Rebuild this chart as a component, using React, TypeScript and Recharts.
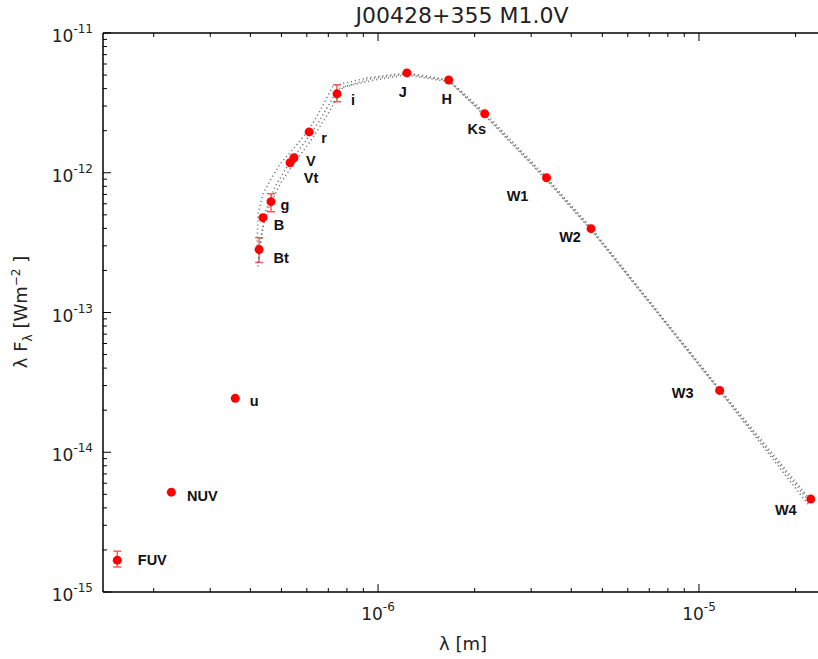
import React from "react";
import { ScatterChart, Scatter, XAxis, YAxis, ErrorBar } from "recharts";

// photometric points
const bands = ["FUV", "NUV", "u", "Bt", "B", "g", "Vt", "V", "r", "i", "J", "H", "Ks", "W1", "W2", "W3", "W4"];
const wavelength = [1.54e-7, 2.27e-7, 3.59e-7, 4.26e-7, 4.38e-7, 4.64e-7, 5.32e-7, 5.47e-7, 6.1e-7, 7.45e-7, 1.23e-6, 1.66e-6, 2.15e-6, 3.35e-6, 4.61e-6, 1.16e-5, 2.23e-5];
const flux = [1.69e-15, 5.18e-15, 2.43e-14, 2.82e-13, 4.77e-13, 6.21e-13, 1.18e-12, 1.28e-12, 1.96e-12, 3.67e-12, 5.18e-12, 4.61e-12, 2.64e-12, 9.21e-13, 3.98e-13, 2.77e-14, 4.62e-15];
const fluxLow = [1.51e-15, null, null, 2.28e-13, null, 5.26e-13, null, null, null, 3.22e-12, null, null, null, null, null, null, null];
const fluxHigh = [1.96e-15, null, null, 3.43e-13, null, 7.08e-13, null, null, null, 4.26e-12, null, null, null, null, null, null, null];

// three model SEDs (dotted)
const modelALambda = [4.197e-7, 4.227e-7, 4.382e-7, 4.608e-7, 4.951e-7, 5.318e-7, 5.715e-7, 6.141e-7, 6.597e-7, 7.24e-7, 9.24e-7, 1.231e-6, 1.664e-6, 2.154e-6, 3.337e-6, 4.609e-6, 1.163e-5, 2.202e-5];
const modelAFlux = [3.01e-13, 5.094e-13, 7.08e-13, 8.77e-13, 1.159e-12, 1.39e-12, 1.693e-12, 2.096e-12, 2.774e-12, 4.18e-12, 4.77e-12, 5.18e-12, 4.617e-12, 2.683e-12, 9.36e-13, 4.047e-13, 2.818e-14, 4.69e-15];
const modelBLambda = [4.227e-7, 4.446e-7, 4.776e-7, 5.318e-7, 5.924e-7, 6.597e-7, 7.505e-7, 9.44e-7, 1.231e-6, 1.664e-6, 2.185e-6, 3.385e-6, 4.675e-6, 1.179e-5, 2.202e-5];
const modelBFlux = [2.276e-13, 5.18e-13, 7.94e-13, 1.198e-12, 1.665e-12, 2.391e-12, 3.981e-12, 4.69e-12, 5.094e-12, 4.541e-12, 2.512e-12, 8.77e-13, 3.79e-13, 2.638e-14, 4.467e-15];
const modelCLambda = [4.227e-7, 4.35e-7, 4.608e-7, 5.023e-7, 5.551e-7, 6.229e-7, 6.985e-7, 7.78e-7, 9.79e-7, 1.231e-6, 1.676e-6, 2.217e-6, 3.434e-6, 4.743e-6, 1.196e-5, 2.186e-5];
const modelCFlux = [2.131e-13, 3.852e-13, 6.005e-13, 8.77e-13, 1.218e-12, 1.75e-12, 2.639e-12, 4.114e-12, 4.617e-12, 5.012e-12, 4.467e-12, 2.391e-12, 8.34e-13, 3.607e-13, 2.512e-14, 4.252e-15];

const xTicks = [2e-7, 3e-7, 4e-7, 5e-7, 6e-7, 7e-7, 8e-7, 9e-7, 1e-6, 2e-6, 3e-6, 4e-6, 5e-6, 6e-6, 7e-6, 8e-6, 9e-6, 1e-5, 2e-5];
const yTicks = [
  1e-15, 2e-15, 3e-15, 4e-15, 5e-15, 6e-15, 7e-15, 8e-15, 9e-15,
  1e-14, 2e-14, 3e-14, 4e-14, 5e-14, 6e-14, 7e-14, 8e-14, 9e-14,
  1e-13, 2e-13, 3e-13, 4e-13, 5e-13, 6e-13, 7e-13, 8e-13, 9e-13,
  1e-12, 2e-12, 3e-12, 4e-12, 5e-12, 6e-12, 7e-12, 8e-12, 9e-12, 1e-11,
];

// where each band label sits relative to its point (px)
const labelShift: Record<string, [number, number]> = {
  FUV: [35, 5], NUV: [31, 9], u: [19, 8], Bt: [22, 13], B: [16, 12], g: [14, 8],
  Vt: [21, 20], V: [17, 8], r: [15, 11], i: [16, 11], J: [-4, 24], H: [-2, 24],
  Ks: [-8, 20], W1: [-29, 23], W2: [-21, 13], W3: [-37, 8], W4: [-25, 16],
};

const points = bands.map((b, i) => ({
  band: b,
  x: wavelength[i],
  y: flux[i],
  err: fluxLow[i] != null ? [flux[i] - (fluxLow[i] as number), (fluxHigh[i] as number) - flux[i]] : undefined,
}));
const withErr = points.filter((p) => p.err);
const noErr = points.filter((p) => !p.err);

const toSeries = (lam: number[], f: number[]) => lam.map((x, i) => ({ x, y: f[i] }));
const models = [toSeries(modelALambda, modelAFlux), toSeries(modelBLambda, modelBFlux), toSeries(modelCLambda, modelCFlux)];

const FONT = "'DejaVu Sans', sans-serif";

const isMajor = (v: number) => {
  const e = Math.round(Math.log10(v));
  return Math.abs(v - Math.pow(10, e)) / v < 1e-6;
};

const BottomTick = (props: any) => {
  const { x, y, payload } = props;
  const v = payload.value;
  const major = isMajor(v);
  const e = Math.round(Math.log10(v));
  return (
    <g>
      <line x1={x} x2={x} y1={y} y2={y - (major ? 8 : 4)} stroke="#000" strokeWidth={1} />
      {major && (
        <text x={x} y={y + 28} textAnchor="middle" fontFamily={FONT} fontSize={17} fill="#222">
          <tspan>10</tspan>
          <tspan dy={-9} fontSize={12}>{String(e)}</tspan>
        </text>
      )}
    </g>
  );
};

const TopTick = (props: any) => {
  const { x, y, payload } = props;
  const major = isMajor(payload.value);
  return <line x1={x} x2={x} y1={y} y2={y + (major ? 8 : 4)} stroke="#000" strokeWidth={1} />;
};

const LeftTick = (props: any) => {
  const { x, y, payload } = props;
  const v = payload.value;
  const major = isMajor(v);
  const e = Math.round(Math.log10(v));
  return (
    <g>
      <line x1={x} x2={x + (major ? 8 : 4)} y1={y} y2={y} stroke="#000" strokeWidth={1} />
      {major && (
        <text x={x - 10} y={y + 9} textAnchor="end" fontFamily={FONT} fontSize={17} fill="#222">
          <tspan>10</tspan>
          <tspan dy={-9} fontSize={12}>{String(e)}</tspan>
        </text>
      )}
    </g>
  );
};

const Marker = (props: any) => {
  const { cx, cy, payload } = props;
  const [dx, dy] = labelShift[payload.band] || [15, 5];
  return (
    <g>
      <circle cx={cx} cy={cy} r={4.5} fill="#ff0000" />
      <text
        x={cx + dx}
        y={cy + dy}
        textAnchor="middle"
        fontFamily="'Liberation Sans', Arial, sans-serif"
        fontWeight="bold"
        fontSize={14.5}
        fill="#111"
      >
        {payload.band}
      </text>
    </g>
  );
};

const NoDot = () => <g />;

export default function App() {
  return (
    <div
      style={{
        position: "absolute",
        left: 0,
        top: 0,
        width: 818,
        height: 659,
        overflow: "hidden",
        background: "#fff",
      }}
    >
      <ScatterChart width={830} height={659} margin={{ top: 3, right: 9, bottom: 0, left: 0 }}>
        <XAxis
          xAxisId={0}
          dataKey="x"
          type="number"
          scale="log"
          domain={[1.39e-7, 2.4e-5]}
          allowDataOverflow
          ticks={xTicks}
          interval={0}
          height={67}
          tickSize={0}
          tickMargin={0}
          tickLine={false}
          axisLine={{ stroke: "#000", strokeWidth: 1.5 }}
          tick={<BottomTick />}
        />
        <XAxis
          xAxisId="top"
          orientation="top"
          dataKey="x"
          type="number"
          scale="log"
          domain={[1.39e-7, 2.4e-5]}
          allowDataOverflow
          ticks={xTicks}
          interval={0}
          height={30}
          tickSize={0}
          tickMargin={0}
          tickLine={false}
          axisLine={{ stroke: "#000", strokeWidth: 1.5 }}
          tick={<TopTick />}
        />
        <YAxis
          dataKey="y"
          type="number"
          scale="log"
          domain={[1e-15, 1e-11]}
          allowDataOverflow
          ticks={yTicks}
          interval={0}
          width={103}
          tickSize={0}
          tickMargin={0}
          tickLine={false}
          axisLine={{ stroke: "#000", strokeWidth: 1.5 }}
          tick={<LeftTick />}
        />
        {models.map((m, i) => (
          <Scatter
            key={i}
            data={m}
            line={{ stroke: "#777", strokeWidth: 1.5, strokeDasharray: "1.2 2.8" }}
            shape={<NoDot />}
            isAnimationActive={false}
          />
        ))}
        <Scatter data={noErr} shape={<Marker />} isAnimationActive={false} />
        <Scatter data={withErr} shape={<Marker />} isAnimationActive={false}>
          <ErrorBar dataKey="err" direction="y" width={4} stroke="#ff5a5a" strokeWidth={1.5} />
        </Scatter>
      </ScatterChart>
      <div
        style={{
          position: "absolute",
          left: 462,
          top: 15,
          transform: "translate(-50%, -50%)",
          fontFamily: FONT,
          fontSize: 22,
          color: "#222",
          whiteSpace: "nowrap",
        }}
      >
        J00428+355 M1.0V
      </div>
      <div
        style={{
          position: "absolute",
          left: 463,
          top: 643,
          transform: "translate(-50%, -50%)",
          fontFamily: FONT,
          fontSize: 18,
          color: "#222",
          whiteSpace: "nowrap",
        }}
      >
        λ [m]
      </div>
      <div
        style={{
          position: "absolute",
          left: 22,
          top: 312,
          transform: "translate(-50%, -50%) rotate(-90deg)",
          fontFamily: FONT,
          fontSize: 18,
          color: "#222",
          whiteSpace: "nowrap",
        }}
      >
        λ F<sub style={{ fontSize: 12 }}>λ</sub> [Wm<sup style={{ fontSize: 12 }}>−2</sup> ]
      </div>
    </div>
  );
}
